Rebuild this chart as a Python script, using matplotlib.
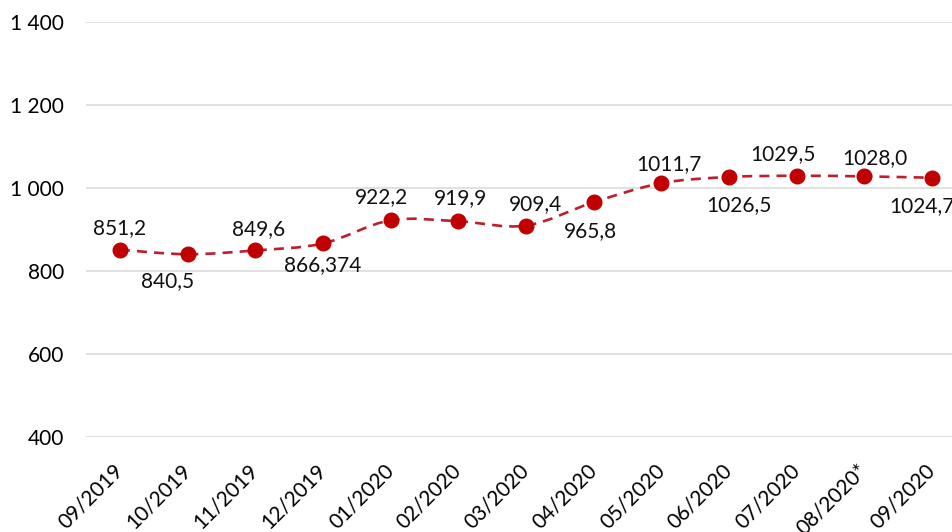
import matplotlib
matplotlib.use('Agg')
import matplotlib.pyplot as plt
import numpy as np
from matplotlib.path import Path
from matplotlib.patches import PathPatch
from matplotlib.ticker import FuncFormatter

# data
months = ['09/2019', '10/2019', '11/2019', '12/2019', '01/2020', '02/2020', '03/2020',
          '04/2020', '05/2020', '06/2020', '07/2020', '08/2020*', '09/2020']
values = [851.2, 840.5, 849.6, 866.374, 922.2, 919.9, 909.4,
          965.8, 1011.7, 1026.5, 1029.5, 1028.0, 1024.7]
labels = ['851,2', '840,5', '849,6', '866,374', '922,2', '919,9', '909,4',
          '965,8', '1011,7', '1026,5', '1029,5', '1028,0', '1024,7']
# label offsets in pixels (dx, dy)
offsets = [(0, 22), (-20, -27), (3, 21), (0, -22), (-9, 23), (2, 23), (9, 22),
           (-3, -29), (8, 19), (10, -28), (-14, 22), (10, 18), (-10, -28)]

plt.rcParams['font.family'] = ['Lato', 'DejaVu Sans']

fig = plt.figure(figsize=(9.52, 5.32), dpi=100)
W, H = 952, 532
ax = fig.add_axes([86 / W, 1 - 437 / H, (966 - 86) / W, (437 - 22) / H])

x = np.arange(len(values))
y = np.array(values)

# smoothed line (catmull-rom as bezier segments)
pts = np.column_stack([x, y]).astype(float)
ext = np.vstack([pts[0], pts, pts[-1]])
verts = [tuple(pts[0])]
codes = [Path.MOVETO]
for i in range(len(pts) - 1):
    p0, p1, p2, p3 = ext[i], ext[i + 1], ext[i + 2], ext[i + 3]
    c1 = p1 + (p2 - p0) / 6
    c2 = p2 - (p3 - p1) / 6
    verts += [tuple(c1), tuple(c2), tuple(p2)]
    codes += [Path.CURVE4] * 3
curve = PathPatch(Path(verts, codes), facecolor='none', edgecolor='#BE1E2D',
                  lw=1.9, linestyle=(0, (3.8, 2.7)), zorder=2)
ax.add_patch(curve)
ax.plot(x, y, 'o', color='#C00000', markersize=10.5, zorder=3)

for xi, yi, lab, (dx, dy) in zip(x, y, labels, offsets):
    ax.annotate(lab, (xi, yi), xytext=(dx, dy), textcoords='offset pixels',
                ha='center', va='center', fontsize=15, color='#111111')

ax.set_xlim(-0.5, len(values) - 0.5)
ax.set_ylim(400, 1400)
ax.set_yticks(range(400, 1401, 200))
ax.yaxis.set_major_formatter(FuncFormatter(lambda v, p: '{:,.0f}'.format(v).replace(',', ' ')))
ax.grid(axis='y', color='#D9D9D9', lw=1.1)
ax.set_axisbelow(True)
for s in ax.spines.values():
    s.set_visible(False)

ax.set_xticks(x)
ax.set_xticklabels(months, rotation=45, ha='right', va='center', rotation_mode='anchor')
ax.tick_params(axis='x', length=0, pad=22, labelsize=15)
ax.tick_params(axis='y', length=0, pad=16, labelsize=15)

fig.savefig('out.png', dpi=100)
